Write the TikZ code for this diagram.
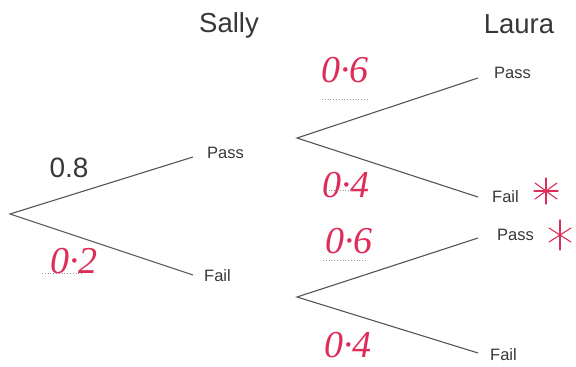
\documentclass[tikz,border=0pt]{standalone}
\usepackage{fontspec}
\setmainfont{Liberation Sans}
\newfontfamily\hand{Liberation Serif}
\definecolor{ink}{RGB}{55,55,55}
\definecolor{branch}{RGB}{85,85,85}
\definecolor{pen}{RGB}{222,45,88}
\definecolor{dots}{RGB}{150,150,150}
\begin{document}
\begin{tikzpicture}[x=1pt,y=-1pt,
  br/.style={draw=branch,line width=1.1pt},
  lbl/.style={text=ink,font=\fontsize{16.5}{19}\selectfont,inner sep=0pt},
  head/.style={text=ink,font=\fontsize{27.5}{31}\selectfont,inner sep=0pt},
  hw/.style={text=pen,font=\hand\itshape\fontsize{38}{42}\selectfont,inner sep=0pt},
  uline/.style={draw=dots,line width=0.8pt,dotted},
  star/.style={draw=pen,line width=1.1pt,line cap=round}]
\useasboundingbox (0,0) rectangle (576,367);
% headers
\node[head] (sally) at (229,25) {Sally};
\node[head] (laura) at (519,24) {Laura};
% junctions
\coordinate (r) at (10,214);
\coordinate (sp) at (193,157);
\coordinate (sf) at (193,275);
\coordinate (u) at (297,138);
\coordinate (up) at (478,78);
\coordinate (uf) at (478,197);
\coordinate (l) at (297,297);
\coordinate (lp) at (478,238);
\coordinate (lf) at (478,353);
% branches
\draw[br] (sp) -- (r) -- (sf);
\draw[br] (up) -- (u) -- (uf);
\draw[br] (lp) -- (l) -- (lf);
% outcome labels
\node[lbl,anchor=west] (spl) at (207,153) {Pass};
\node[lbl,anchor=west] (sfl) at (204,276) {Fail};
\node[lbl,anchor=west] (upl) at (494,73) {Pass};
\node[lbl,anchor=west] (ufl) at (492,197) {Fail};
\node[lbl,anchor=west] (lpl) at (497,235) {Pass};
\node[lbl,anchor=west] (lfl) at (490,355) {Fail};
% printed probability
\node[text=ink,font=\fontsize{28}{31}\selectfont,inner sep=0pt] (p08) at (69,168) {0.8};
% handwritten probabilities
\node[hw] (p02) at (74,261) {0\textperiodcentered2};
\node[hw] (p06a) at (345,70) {0\textperiodcentered6};
\node[hw] (p04a) at (346,185) {0\textperiodcentered4};
\node[hw] (p06b) at (349,241) {0\textperiodcentered6};
\node[hw] (p04b) at (348,345) {0\textperiodcentered4};
% dotted underlines
\draw[uline] (42,273) -- (84,273);
\draw[uline] (322,99) -- (368,99);
\draw[uline] (323,190) -- (352,190);
\draw[uline] (323,260) -- (366,260);
% stars
\begin{scope}[shift={(546,191)}]
  \draw[star] (0,-13) -- (0,13);
  \draw[star] (-11,-8) -- (11,8);
  \draw[star] (-11,8) -- (11,-8);
  \draw[star] (-12,0) -- (12,0);
\end{scope}
\begin{scope}[shift={(560,235)}]
  \draw[star] (0,-15) -- (0,15);
  \draw[star] (-11,-7) -- (11,7);
  \draw[star] (-11,7) -- (11,-7);
\end{scope}
\end{tikzpicture}
\end{document}
